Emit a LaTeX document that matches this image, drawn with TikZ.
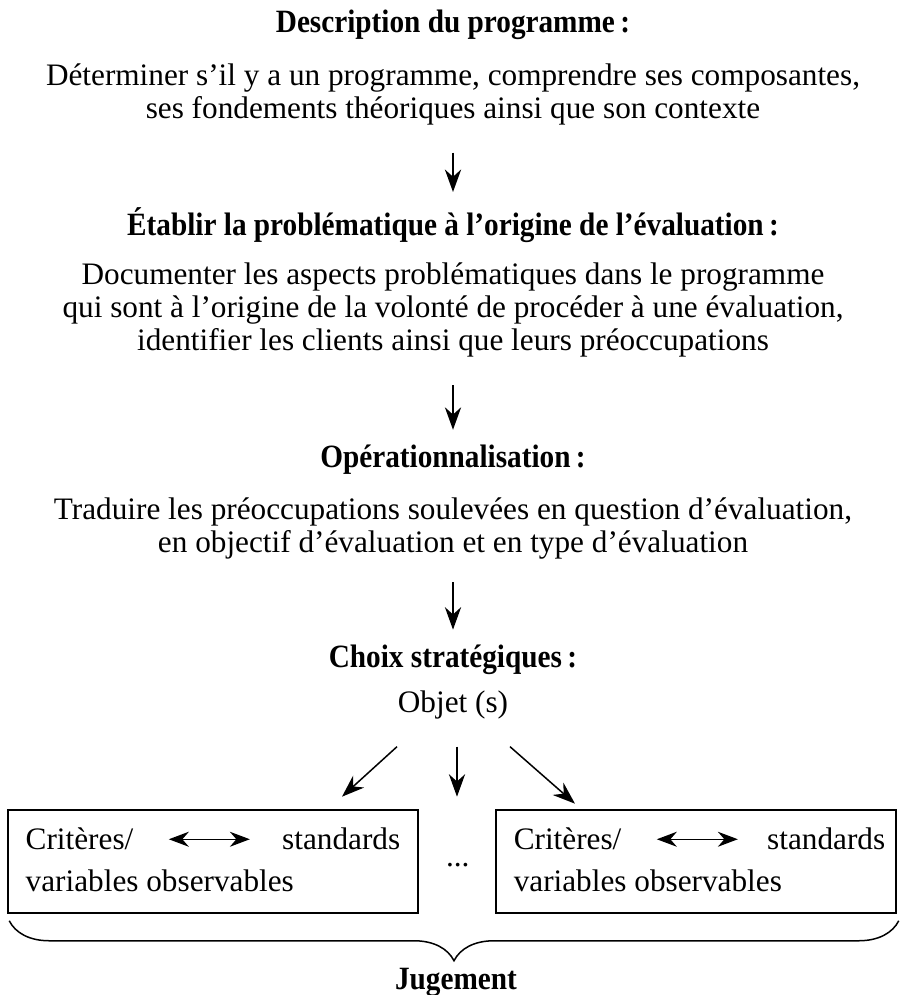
\documentclass[tikz,border=0pt]{standalone}
\usepackage{fontspec}
\setmainfont{Liberation Serif}
\newfontfamily\headfont{Liberation Serif}[Ligatures=TeX, FakeStretch=0.9]
\usepackage{tikz}
\usetikzlibrary{
  arrows.meta,
  calc,
  decorations.pathreplacing,
}
\tikzstyle{basetext}=[inner sep=0pt, font=\fontsize{12.5}{13.2}\selectfont]
\tikzstyle{titleblock}=[basetext, font=\fontsize{13}{14}\headfont\bfseries]
\tikzstyle{textblock}=[basetext, align=center]
\tikzstyle{flow}=[-{Stealth[length=9pt,width=6.5pt]}, line width=0.6pt]
\tikzstyle{twoway}=[{Stealth[length=8pt,width=6pt]}-{Stealth[length=8pt,width=6pt]}, line width=0.6pt]
\tikzstyle{critbox}=[draw, line width=0.6pt, minimum height=41.2pt, inner sep=0pt]

\begin{document}
\begin{tikzpicture}[x=0.4pt, y=-0.4pt]
	\useasboundingbox (0,0) rectangle (901,995);
	\node (desctitle) [titleblock] at (453,25) {Description du programme\,:};
	\path (desctitle) + (0,69) node (desctext) [textblock] {D\'eterminer s'il y a un programme, comprendre ses composantes,\\ses fondements th\'eoriques ainsi que son contexte};
	\path (desctitle) + (0,200) node (probtitle) [titleblock] {\'Etablir la probl\'ematique \`a l'origine de l'\'evaluation\,:};
	\path (probtitle) + (0,85) node (probtext) [textblock] {Documenter les aspects probl\'ematiques dans le programme\\qui sont \`a l'origine de la volont\'e de proc\'eder \`a une \'evaluation,\\identifier les clients ainsi que leurs pr\'eoccupations};
	\path (probtitle) + (0,235) node (opertitle) [titleblock] {Op\'erationnalisation\,:};
	\path (opertitle) + (0,68.5) node (opertext) [textblock] {Traduire les pr\'eoccupations soulev\'ees en question d'\'evaluation,\\en objectif d'\'evaluation et en type d'\'evaluation};
	\path (opertitle) + (0,200) node (choixtitle) [titleblock] {Choix strat\'egiques\,:};
	\path (choixtitle) + (0,45) node (objet) [basetext] {Objet (s)};
	\node (leftbox) [critbox, minimum width=164pt] at (213,861.5) {};
	\node (rightbox) [critbox, minimum width=160pt] at (696,861.5) {};
	\path (leftbox.north west) + (18,30) node (leftcrit) [basetext, anchor=west] {Crit\`eres/};
	\path (leftbox.north east) + (-18,30) node (leftstd) [basetext, anchor=east] {standards};
	\path (leftbox.north west) + (18,72) node (leftvar) [basetext, anchor=west] {variables observables};
	\path (rightbox.north west) + (18,30) node (rightcrit) [basetext, anchor=west] {Crit\`eres/};
	\path (rightbox.north east) + (-11,30) node (rightstd) [basetext, anchor=east] {standards};
	\path (rightbox.north west) + (18,72) node (rightvar) [basetext, anchor=west] {variables observables};
	\path (leftbox.east) + (39,4) node (dots) [basetext] {...};
	\path (leftbox.south) + (243,69) node (jugement) [titleblock] {Jugement};
	\coordinate (bracestart) at ($(leftbox.south west)+(2,7)$);
	\coordinate (braceend) at ($(rightbox.south east)+(2,7)$);
	\draw [flow, line width=0.8pt, shorten <=11pt, shorten >=6pt] (desctext) -- (probtitle);
	\draw [flow, shorten <=11pt, shorten >=6pt] (probtext) -- (opertitle);
	\draw [flow, shorten <=9pt, shorten >=6pt] (opertext) -- (choixtitle);
	\draw [flow] ($(objet.south)+(-56,27)$) -- ($(objet.south)+(-111,77)$);
	\draw [flow] ($(objet.south)+(4,27)$) -- ($(objet.south)+(4,77)$);
	\draw [flow] ($(objet.south)+(57,27)$) -- ($(objet.south)+(122,84)$);
	\draw [twoway] ($(leftcrit.east)+(35,0)$) -- ($(leftcrit.east)+(116,0)$);
	\draw [twoway] ($(rightcrit.east)+(35,0)$) -- ($(rightcrit.east)+(116,0)$);
	\draw [decorate, decoration={brace, mirror, amplitude=16pt}, line width=0.6pt] (bracestart) -- (braceend);
\end{tikzpicture}
\end{document}
